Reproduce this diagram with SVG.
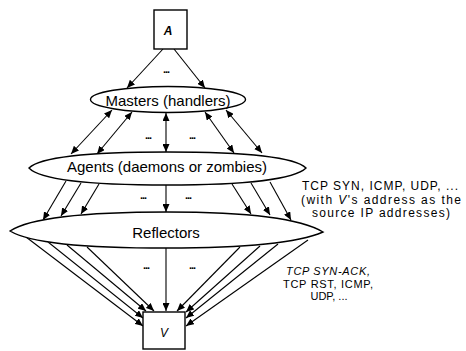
<svg xmlns="http://www.w3.org/2000/svg" width="466" height="351" viewBox="0 0 466 351">
<style>
.shape{fill:#fff;stroke:#000;stroke-width:1.4}
.ln{stroke:#000;stroke-width:1.1;fill:none}
.lbl{font-family:"Liberation Sans",Arial,sans-serif;font-size:15px;fill:#000;text-anchor:middle}
.req{font-family:"Liberation Sans",Arial,sans-serif;font-size:12px;fill:#000;text-anchor:middle}
.rep{font-family:"Liberation Sans",Arial,sans-serif;font-size:11px;fill:#000;text-anchor:middle}
.dots{font-family:"Liberation Sans",Arial,sans-serif;font-size:11px;font-weight:bold;fill:#000;text-anchor:middle;letter-spacing:-1px}
</style>
<defs>
<marker id="ah" markerUnits="userSpaceOnUse" markerWidth="8" markerHeight="7" refX="8" refY="3.5" orient="auto-start-reverse">
<path d="M0,0 L8,3.5 L0,7 Z" fill="#000"/>
</marker>
</defs>
<rect width="466" height="351" fill="#fff"/>
<g id="connectors">
<line class="ln" x1="163" y1="49" x2="127" y2="88" marker-end="url(#ah)"/>
<line class="ln" x1="174" y1="49" x2="205" y2="88" marker-end="url(#ah)"/>
<line class="ln" x1="112" y1="110" x2="71" y2="154" marker-start="url(#ah)" marker-end="url(#ah)"/>
<line class="ln" x1="132" y1="112" x2="97" y2="154" marker-start="url(#ah)" marker-end="url(#ah)"/>
<line class="ln" x1="166" y1="113" x2="166" y2="152" marker-start="url(#ah)" marker-end="url(#ah)"/>
<line class="ln" x1="205" y1="112" x2="234" y2="153" marker-start="url(#ah)" marker-end="url(#ah)"/>
<line class="ln" x1="226" y1="110" x2="262" y2="153" marker-start="url(#ah)" marker-end="url(#ah)"/>
<line class="ln" x1="66" y1="181" x2="43" y2="220" marker-end="url(#ah)"/>
<line class="ln" x1="81" y1="183" x2="61" y2="216" marker-end="url(#ah)"/>
<line class="ln" x1="99" y1="184" x2="81" y2="214" marker-end="url(#ah)"/>
<line class="ln" x1="166" y1="185" x2="166" y2="212" marker-end="url(#ah)"/>
<line class="ln" x1="232" y1="184" x2="251" y2="214" marker-end="url(#ah)"/>
<line class="ln" x1="251" y1="183" x2="270" y2="215" marker-end="url(#ah)"/>
<line class="ln" x1="270" y1="182" x2="291" y2="220" marker-end="url(#ah)"/>
<line class="ln" x1="26" y1="237" x2="143" y2="326" marker-end="url(#ah)"/>
<line class="ln" x1="48" y1="242" x2="143" y2="318" marker-end="url(#ah)"/>
<line class="ln" x1="67" y1="245" x2="146" y2="311" marker-end="url(#ah)"/>
<line class="ln" x1="87" y1="247" x2="154" y2="311" marker-end="url(#ah)"/>
<line class="ln" x1="166" y1="248" x2="166" y2="311" marker-end="url(#ah)"/>
<line class="ln" x1="240" y1="247" x2="177" y2="311" marker-end="url(#ah)"/>
<line class="ln" x1="260" y1="246" x2="186" y2="312" marker-end="url(#ah)"/>
<line class="ln" x1="278" y1="244" x2="186" y2="318" marker-end="url(#ah)"/>
<line class="ln" x1="308" y1="240" x2="186" y2="326" marker-end="url(#ah)"/>
</g>
<g id="node-A">
<rect class="shape" x="154" y="10" width="33" height="39"/>
<text class="lbl" x="168" y="35" font-style="italic" font-weight="bold" style="font-size:12px">A</text>
</g>
<g id="node-masters">
<ellipse class="shape" cx="168" cy="99.5" rx="77.5" ry="13"/>
<text class="lbl" x="168" y="106">Masters (handlers)</text>
</g>
<g id="node-agents">
<path class="shape" d="M29,168 C40,157 90,152 167,152 C245,152 295,157 306,168 C295,179 245,185 167,185 C90,185 40,180 29,168 Z"/>
<text class="lbl" x="167" y="172">Agents (daemons or zombies)</text>
</g>
<g id="node-reflectors">
<path class="shape" d="M10,231 C30,218 80,212 167,212 C250,212 300,218 323,232 C300,242 250,248 167,248 C80,248 30,243 10,231 Z"/>
<text class="lbl" x="166" y="238">Reflectors</text>
</g>
<g id="node-V">
<rect class="shape" x="143" y="312" width="42" height="37"/>
<text class="lbl" x="164" y="337" font-style="italic" style="font-size:12px">V</text>
</g>
<g id="dots">
<text class="dots" x="166" y="73">...</text>
<text class="dots" x="148" y="139">...</text>
<text class="dots" x="192" y="139">...</text>
<text class="dots" x="143" y="199">...</text>
<text class="dots" x="188" y="199">...</text>
<text class="dots" x="146" y="269">...</text>
<text class="dots" x="192" y="269">...</text>
</g>
<g id="label-request">
<text class="req" x="380" y="190" textLength="156" lengthAdjust="spacing">TCP SYN, ICMP, UDP, ...</text>
<text class="req" x="381" y="203.5" textLength="160" lengthAdjust="spacing">(with <tspan font-style="italic">V</tspan>'s address as the</text>
<text class="req" x="381" y="217" textLength="138" lengthAdjust="spacing">source IP addresses)</text>
</g>
<g id="label-reply">
<text class="rep" x="328" y="275" font-style="italic" textLength="84" lengthAdjust="spacing">TCP SYN-ACK,</text>
<text class="rep" x="328" y="287.5" textLength="90" lengthAdjust="spacing">TCP RST, ICMP,</text>
<text class="rep" x="329" y="300">UDP, ...</text>
</g>
</svg>
